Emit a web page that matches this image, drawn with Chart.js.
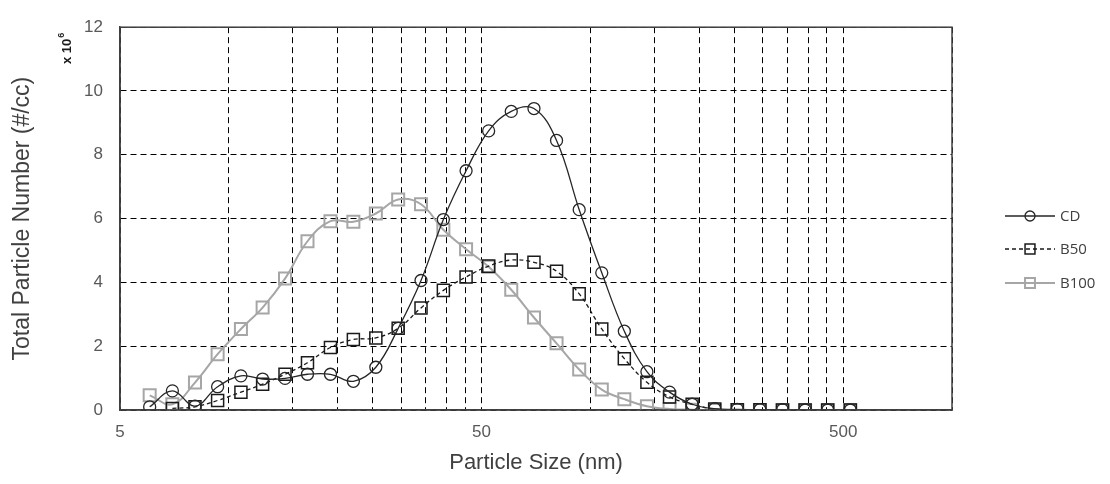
<!DOCTYPE html>
<html>
<head>
<meta charset="utf-8">
<script src="https://cdn.jsdelivr.net/npm/chart.js@4/dist/chart.umd.min.js"></script>
<style>
    body { margin: 0; background: #ffffff; }
    canvas { display: block; }
</style>
</head>
<body>
<canvas id="chart" width="1110" height="484"></canvas>
<script>
const particleSizes = [6.04, 6.98, 8.06, 9.31, 10.8, 12.4, 14.3, 16.5, 19.1, 22.1, 25.5, 29.4, 34.0, 39.2, 45.3, 52.3, 60.4, 69.8, 80.6, 93.1, 107.5, 124.1, 143.3, 165.5, 191.1, 220.7, 254.8, 294.3, 339.8, 392.4, 453.2, 523.3];
const cdValues = [0.10, 0.60, 0.12, 0.73, 1.07, 0.97, 0.99, 1.12, 1.12, 0.90, 1.34, 2.56, 4.06, 5.97, 7.50, 8.75, 9.36, 9.45, 8.45, 6.28, 4.30, 2.47, 1.20, 0.56, 0.18, 0.04, 0.02, 0.01, 0.01, 0.0, 0.0, 0.0];
const b50Values = [null, 0.05, 0.10, 0.30, 0.56, 0.81, 1.12, 1.48, 1.96, 2.21, 2.26, 2.56, 3.20, 3.75, 4.17, 4.51, 4.70, 4.63, 4.35, 3.64, 2.54, 1.61, 0.87, 0.41, 0.18, 0.03, 0.01, 0.01, 0.0, 0.0, 0.0, 0.0];
const b100Values = [0.46, 0.18, 0.86, 1.75, 2.54, 3.21, 4.12, 5.29, 5.92, 5.90, 6.16, 6.60, 6.45, 5.65, 5.04, 4.49, 3.77, 2.90, 2.09, 1.27, 0.64, 0.34, 0.12, 0.03, 0.01, 0.0, 0.0, 0.0, 0.0, 0.0, 0.0, 0.0];
const xGridValues = [5, 10, 15, 20, 25, 30, 35, 40, 45, 50, 100, 150, 200, 250, 300, 350, 400, 450, 500, 1000];
const xTickLabels = [5, 50, 500];
const yTicks = [0, 2, 4, 6, 8, 10, 12];

const TEXT_COLOR = "#595959";
const AXIS_COLOR = "#404040";
const FONT = "'Liberation Sans', Arial, sans-serif";

const toPoints = (values) =>
    values.map((y, i) => ({ x: particleSizes[i], y }));

const SERIES = [
    {
        label: "CD",
        data: toPoints(cdValues),
        borderColor: "#262626",
        borderWidth: 1.3,
        pointStyle: "circle",
        pointRadius: 6,
        pointBorderWidth: 1.3,
        legendRadius: 5,
    },
    {
        label: "B50",
        data: toPoints(b50Values),
        borderColor: "#1a1a1a",
        borderWidth: 1.3,
        borderDash: [4, 3],
        pointStyle: "rect",
        pointRadius: 8.5,
        pointBorderWidth: 1.5,
        legendRadius: 7,
    },
    {
        label: "B100",
        data: toPoints(b100Values),
        borderColor: "#a6a6a6",
        borderWidth: 2,
        pointStyle: "rect",
        pointRadius: 8.5,
        pointBorderWidth: 2,
        legendRadius: 7,
    },
];

const frameAndLegend = {
    id: "frameAndLegend",
    afterDraw(chart) {
        const { ctx, chartArea } = chart;
        ctx.save();
        ctx.strokeStyle = AXIS_COLOR;
        ctx.lineWidth = 1.5;
        ctx.setLineDash([]);
        ctx.strokeRect(chartArea.left, chartArea.top, chartArea.right - chartArea.left, chartArea.bottom - chartArea.top);

        // "x 10^6" unit label
        ctx.translate(66, 64);
        ctx.rotate(-Math.PI / 2);
        ctx.fillStyle = "#1a1a1a";
        ctx.font = "bold 13px " + FONT;
        ctx.textBaseline = "middle";
        ctx.textAlign = "left";
        const base = "x 10";
        const w = ctx.measureText(base).width;
        ctx.fillText(base, 0, 1);
        ctx.font = "bold 9px " + FONT;
        ctx.fillText("6", w + 1, -4);
        ctx.restore();

        ctx.save();
        const rowY = [216, 249, 283];
        chart.data.datasets.forEach((ds, i) => {
            const y = rowY[i];
            ctx.strokeStyle = ds.borderColor;
            ctx.lineWidth = ds.borderWidth;
            ctx.setLineDash(ds.borderDash || []);
            ctx.beginPath();
            ctx.moveTo(1005, y);
            ctx.lineTo(1055, y);
            ctx.stroke();
            ctx.setLineDash([]);
            ctx.lineWidth = ds.pointBorderWidth;
            ctx.fillStyle = "rgba(0,0,0,0)";
            Chart.helpers.drawPoint(ctx, {
                pointStyle: ds.pointStyle,
                radius: ds.legendRadius,
                borderWidth: ds.pointBorderWidth,
            }, 1030, y);
            ctx.fillStyle = AXIS_COLOR;
            ctx.font = "15px 'Open Sans', sans-serif";
            ctx.textBaseline = "middle";
            ctx.textAlign = "left";
            ctx.fillText(ds.label, 1060, y + 1);
        });
        ctx.restore();
    },
};

new Chart(document.getElementById("chart"), {
    type: "line",
    data: {
        datasets: SERIES.map((s) => ({
            ...s,
            pointBackgroundColor: "rgba(0,0,0,0)",
            pointBorderColor: s.borderColor,
            backgroundColor: "rgba(0,0,0,0)",
            tension: 0.4,
            fill: false,
        })),
    },
    options: {
        responsive: false,
        devicePixelRatio: 1,
        animation: false,
        layout: { padding: { top: 17, right: 158, left: 0, bottom: 0 } },
        plugins: {
            legend: { display: false },
            tooltip: { enabled: false },
        },
        scales: {
            x: {
                type: "logarithmic",
                min: 5,
                max: 1000,
                afterBuildTicks: (scale) => {
                    scale.ticks = xGridValues.map((value) => ({ value }));
                },
                afterFit: (scale) => { scale.height = 74; },
                ticks: {
                    autoSkip: false,
                    maxRotation: 0,
                    padding: 12,
                    color: TEXT_COLOR,
                    font: { family: FONT, size: 17 },
                    callback: (value) => (xTickLabels.includes(value) ? String(value) : ""),
                },
                grid: { color: "#000000", lineWidth: 1, drawTicks: false },
                border: { color: AXIS_COLOR, width: 1.5, dash: [6, 4] },
                title: {
                    display: true,
                    text: "Particle Size (nm)",
                    color: AXIS_COLOR,
                    font: { family: FONT, size: 22 },
                    padding: { top: 0, bottom: 8 },
                },
            },
            y: {
                min: 0,
                max: 12,
                afterBuildTicks: (scale) => {
                    scale.ticks = yTicks.map((value) => ({ value }));
                },
                afterFit: (scale) => { scale.width = 120; },
                ticks: {
                    padding: 17,
                    color: TEXT_COLOR,
                    font: { family: FONT, size: 17 },
                },
                grid: { color: "#000000", lineWidth: 1, drawTicks: false },
                border: { color: AXIS_COLOR, width: 1.5, dash: [6, 4] },
                title: {
                    display: true,
                    text: "Total Particle Number (#/cc)",
                    color: AXIS_COLOR,
                    font: { family: FONT, size: 23 },
                    padding: { top: 9, bottom: 0 },
                },
            },
        },
    },
    plugins: [frameAndLegend],
});
</script>
</body>
</html>
